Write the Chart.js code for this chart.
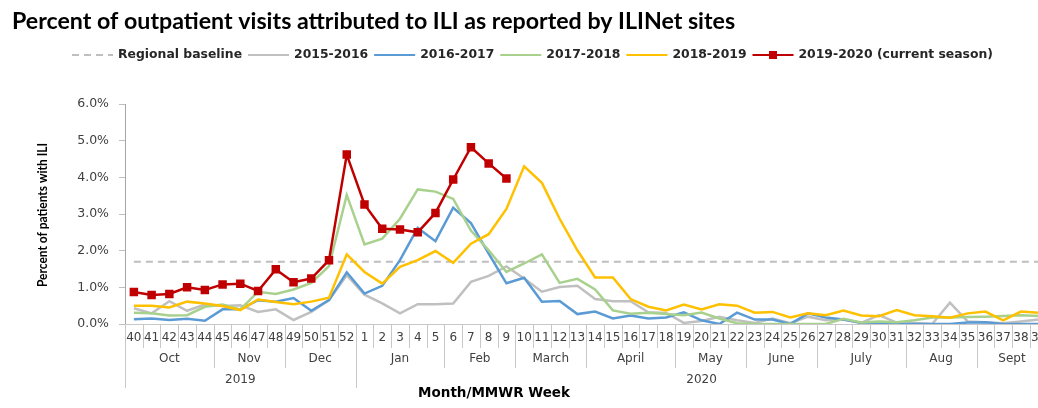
<!DOCTYPE html>
<html><head><meta charset="utf-8">
<script src="https://cdn.jsdelivr.net/npm/chart.js@4/dist/chart.umd.min.js"></script>
<style>
html,body{margin:0;padding:0;background:#fff;overflow:hidden;width:1038px;height:408px}
#wrap{position:absolute;left:0;top:0;width:1060px;height:408px}
</style>
</head><body><div id="wrap"><canvas id="c" width="1060" height="408"></canvas></div>
<script>
const chartTitle = 'Percent of outpatient visits attributed to ILI as reported by ILINet sites';
const yAxisTitle = 'Percent of patients with ILI';
const xAxisTitle = 'Month/MMWR Week';
const weeks = ['40','41','42','43','44','45','46','47','48','49','50','51','52',
  '1','2','3','4','5','6','7','8','9','10','11','12','13','14','15','16','17','18','19','20',
  '21','22','23','24','25','26','27','28','29','30','31','32','33','34','35','36','37','38','39'];
const monthNames = ['Oct','Nov','Dec','Jan','Feb','March','April','May','June','July','Aug','Sept'];
const monthSpans = [5,4,4,5,4,4,5,4,4,5,4,4];
const yearNames = ['2019','2020'];
const yearSpans = [13,39];
const yTicks = [0,1,2,3,4,5,6];
const baselineValue = 1.7;
const s2015 = [0.43,0.29,0.62,0.36,0.53,0.49,0.51,0.33,0.40,0.11,0.33,0.65,1.33,
  0.80,0.56,0.29,0.54,0.54,0.56,1.15,1.31,1.57,1.24,0.88,1.01,1.04,0.68,0.62,0.62,0.32,0.30,0.03,0.08,
  0.20,0.10,0.03,0.15,0.02,0.20,0.10,0.12,0.03,0.24,0.04,0.03,0.00,0.58,0.07,0.05,0.02,0.07,0.12];
const s2016 = [0.13,0.15,0.11,0.14,0.09,0.40,0.40,0.65,0.61,0.71,0.36,0.65,1.41,
  0.83,1.04,1.74,2.62,2.26,3.17,2.75,1.92,1.11,1.26,0.61,0.63,0.27,0.34,0.15,0.23,0.15,0.18,0.32,0.10,
  0.00,0.31,0.12,0.12,0.00,0.29,0.18,0.12,0.03,0.00,0.00,0.00,0.00,0.00,0.04,0.05,0.00,0.00,0.00];
const s2017 = [0.31,0.29,0.23,0.24,0.47,0.53,0.40,0.88,0.82,0.94,1.12,1.58,3.52,
  2.17,2.33,2.87,3.67,3.61,3.41,2.55,2.01,1.42,1.65,1.90,1.12,1.23,0.94,0.37,0.28,0.31,0.27,0.24,0.31,
  0.15,0.02,0.00,0.00,0.00,0.00,0.00,0.14,0.04,0.07,0.05,0.10,0.18,0.18,0.19,0.20,0.22,0.24,0.22];
const s2018 = [0.50,0.50,0.45,0.61,0.56,0.49,0.38,0.67,0.60,0.54,0.61,0.72,1.90,
  1.42,1.10,1.56,1.74,1.99,1.67,2.19,2.45,3.14,4.30,3.85,2.87,2.01,1.27,1.27,0.68,0.47,0.37,0.53,0.40,
  0.54,0.50,0.31,0.33,0.18,0.29,0.24,0.37,0.23,0.21,0.38,0.24,0.21,0.17,0.29,0.34,0.10,0.34,0.31];
const s2019 = [0.87,0.79,0.82,1.00,0.93,1.08,1.10,0.90,1.49,1.14,1.24,1.74,4.62,
  3.26,2.60,2.58,2.50,3.03,3.94,4.82,4.38,3.97];

const baselineData = weeks.map(() => baselineValue);

const axisFont = 'DejaVu Sans';
const textColor = '#404040';

const customDraw = {
  id: 'customDraw',
  afterDraw(chart) {
    const ctx = chart.ctx;
    const xs = chart.scales.x;
    const ca = chart.chartArea;
    ctx.save();
    // Title
    ctx.fillStyle = '#000';
    ctx.font = 'bold 23.2px Lato';
    ctx.textBaseline = 'middle';
    ctx.textAlign = 'left';
    ctx.fillText(chartTitle, 12, 22);

    // Legend
    ctx.font = 'bold 12.4px "DejaVu Sans"';
    ctx.fillStyle = '#262626';
    let x = 72;
    const ly = 55;
    chart.data.datasets.forEach(ds => {
      ctx.save();
      ctx.strokeStyle = ds.borderColor;
      ctx.lineWidth = 2;
      ctx.setLineDash(ds.borderDash || []);
      ctx.beginPath(); ctx.moveTo(x, ly); ctx.lineTo(x + 41, ly); ctx.stroke();
      ctx.restore();
      if (ds.pointRadius > 0) {
        ctx.fillStyle = ds.pointBackgroundColor;
        ctx.fillRect(x + 20.5 - 4, ly - 4, 8, 8);
        ctx.fillStyle = '#262626';
      }
      x += 41 + 5;
      ctx.fillText(ds.label, x, ly);
      x += ctx.measureText(ds.label).width + 6;
    });

    // Y axis title (rotated)
    ctx.save();
    ctx.translate(43, 215);
    ctx.rotate(-Math.PI / 2);
    ctx.textAlign = 'center';
    ctx.fillStyle = '#000';
    ctx.font = 'bold 13px Lato';
    ctx.fillText(yAxisTitle, 0, 0, 144);
    ctx.restore();

    // Multi-level category axis
    const half = (xs.getPixelForValue(1) - xs.getPixelForValue(0)) / 2;
    const top = ca.bottom;
    ctx.strokeStyle = '#c8c8c8';
    ctx.lineWidth = 1;
    const monthStarts = new Set();
    let acc = 0;
    monthSpans.forEach(n => { monthStarts.add(acc); acc += n; });
    const yearStarts = new Set();
    acc = 0;
    yearSpans.forEach(n => { yearStarts.add(acc); acc += n; });
    for (let i = 0; i <= weeks.length; i++) {
      const bx = Math.round(xs.getPixelForValue(i) - half) + 0.5;
      let len = 24;
      if (monthStarts.has(i)) len = 44;
      if (yearStarts.has(i)) len = 64;
      ctx.beginPath(); ctx.moveTo(bx, top); ctx.lineTo(bx, top + len); ctx.stroke();
    }
    ctx.fillStyle = textColor;
    ctx.font = '12px "DejaVu Sans"';
    ctx.textAlign = 'center';
    acc = 0;
    monthNames.forEach((m, k) => {
      const a = xs.getPixelForValue(acc), b = xs.getPixelForValue(acc + monthSpans[k] - 1);
      ctx.fillText(m, (a + b) / 2, top + 35);
      acc += monthSpans[k];
    });
    acc = 0;
    yearNames.forEach((yv, k) => {
      const a = xs.getPixelForValue(acc), b = xs.getPixelForValue(acc + yearSpans[k] - 1);
      ctx.fillText(yv, (a + b) / 2, top + 56);
      acc += yearSpans[k];
    });
    // X axis title
    ctx.fillStyle = '#000';
    ctx.font = 'bold 13.5px "DejaVu Sans"';
    ctx.fillText(xAxisTitle, 494, 393);
    ctx.restore();
  }
};

new Chart(document.getElementById('c'), {
  type: 'line',
  data: {
    labels: weeks,
    datasets: [
      { label: 'Regional baseline', data: baselineData, borderColor: '#bfbfbf', borderWidth: 2,
        borderDash: [7, 5], pointRadius: 0, order: 6 },
      { label: '2015-2016', data: s2015, borderColor: '#c0c0c0', borderWidth: 2.5, pointRadius: 0, order: 5 },
      { label: '2016-2017', data: s2016, borderColor: '#5b9bd5', borderWidth: 2.5, pointRadius: 0, order: 4 },
      { label: '2017-2018', data: s2017, borderColor: '#a9d18e', borderWidth: 2.5, pointRadius: 0, order: 3 },
      { label: '2018-2019', data: s2018, borderColor: '#ffc000', borderWidth: 2.5, pointRadius: 0, order: 2 },
      { label: '2019-2020 (current season)', data: s2019, borderColor: '#c00000', borderWidth: 2.5,
        pointRadius: 6, pointStyle: 'rect', pointBackgroundColor: '#c00000', pointBorderColor: '#c00000',
        pointBorderWidth: 0, order: 1 }
    ]
  },
  options: {
    responsive: false,
    animation: false,
    devicePixelRatio: 1,
    layout: { padding: { top: 104, right: 12.5, bottom: 0, left: 0 } },
    plugins: { legend: { display: false }, title: { display: false }, tooltip: { enabled: false } },
    elements: { line: { tension: 0, fill: false } },
    scales: {
      x: {
        type: 'category',
        offset: true,
        ticks: { autoSkip: false, maxRotation: 0, minRotation: 0, color: textColor,
          font: { family: axisFont, size: 12 }, padding: 7 },
        grid: { display: false, drawTicks: false, offset: true },
        border: { display: true, color: '#c8c8c8' },
        afterFit(s) { s.height = 84; }
      },
      y: {
        min: 0, max: 6,
        afterBuildTicks(s) { s.ticks = yTicks.map(v => ({ value: v })); },
        ticks: { callback: v => v.toFixed(1) + '%', color: textColor,
          font: { family: axisFont, size: 12.5 }, padding: 10 },
        grid: { drawOnChartArea: false, tickLength: 6, color: '#bfbfbf' },
        border: { display: true, color: '#a6a6a6' },
        afterFit(s) { s.width = 125; }
      }
    }
  },
  plugins: [customDraw]
});
</script>
</body></html>
